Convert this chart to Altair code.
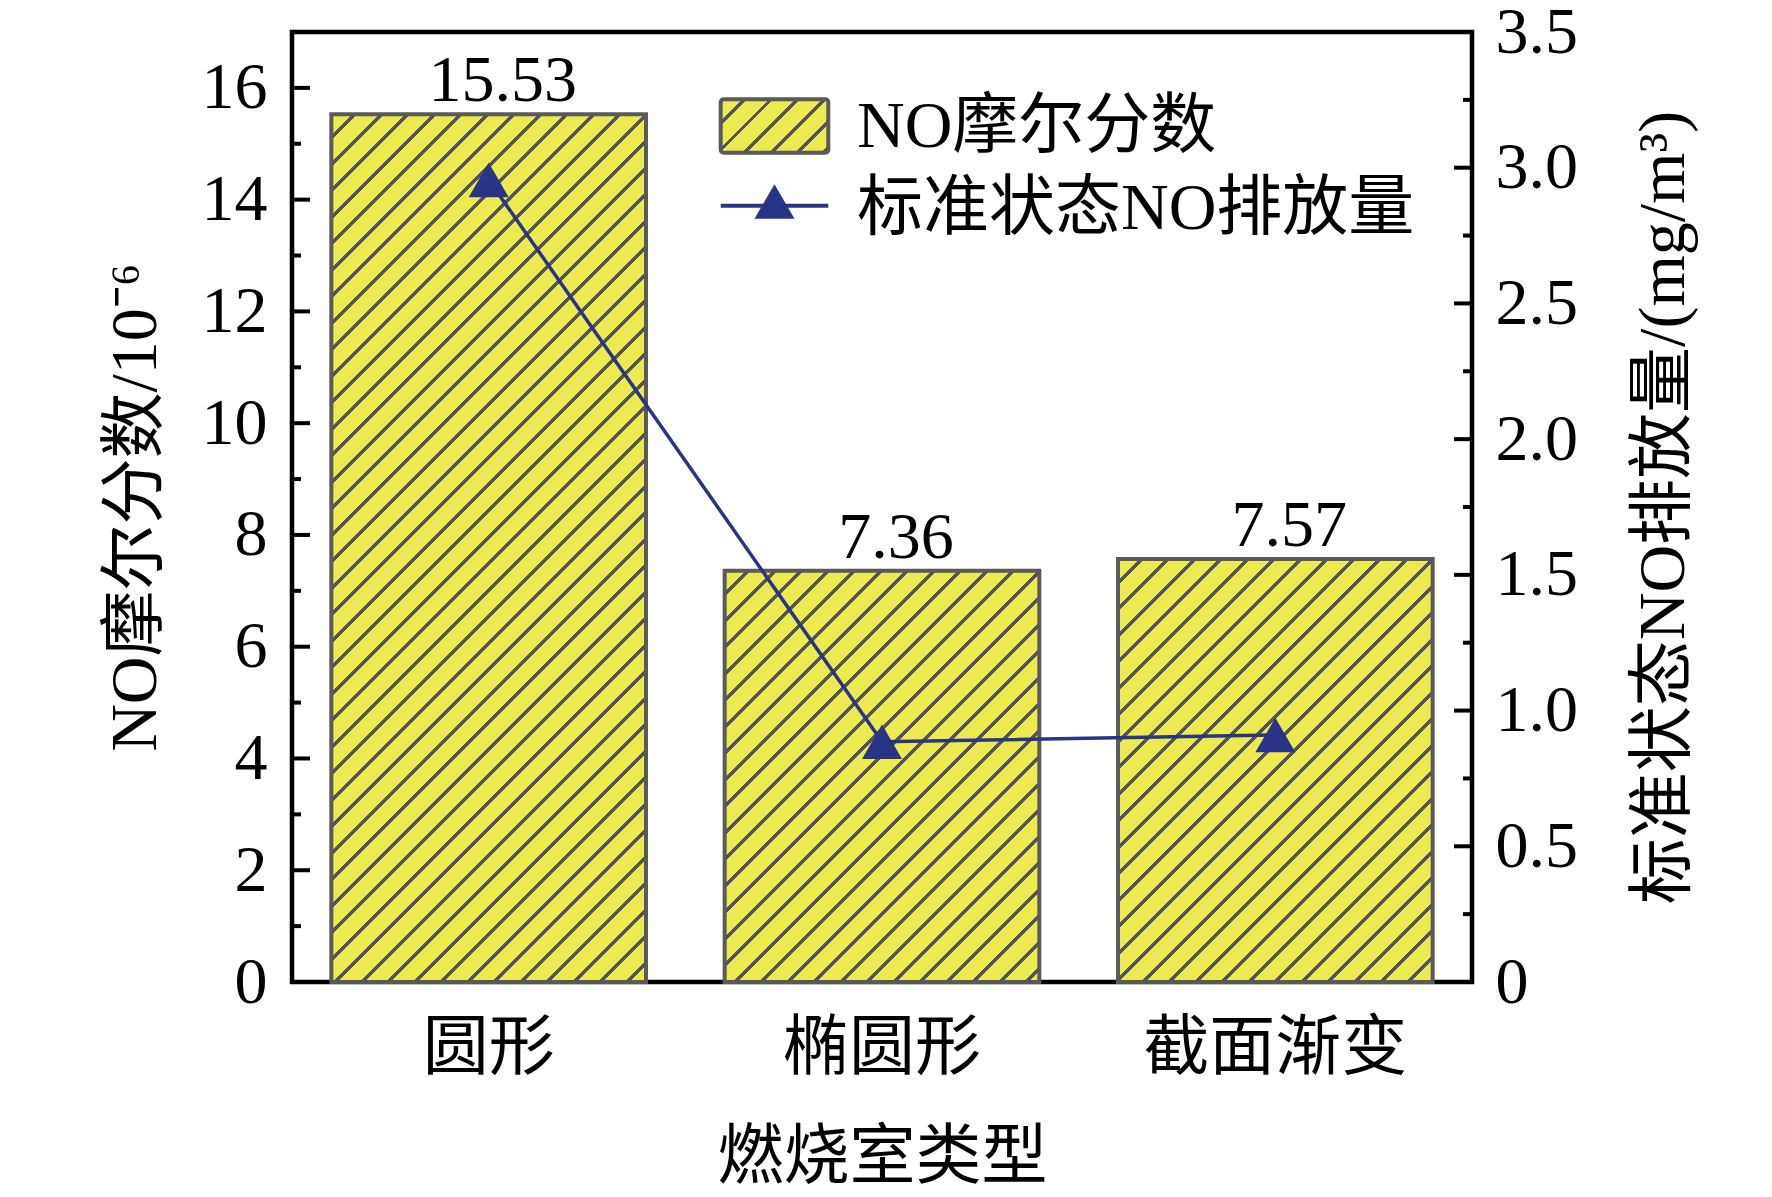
import altair as alt
import pandas as pd

# ---------------- data ----------------
categories = ["圆形", "椭圆形", "截面渐变"]
no_fraction = [15.53, 7.36, 7.57]
emission = [2.955, 0.885, 0.91]
left_major = [0, 2, 4, 6, 8, 10, 12, 14, 16]
left_minor = [1, 3, 5, 7, 9, 11, 13, 15]
right_major = [0, 0.5, 1.0, 1.5, 2.0, 2.5, 3.0, 3.5]
right_minor = [0.25, 0.75, 1.25, 1.75, 2.25, 2.75, 3.25]
legend_labels = ["NO摩尔分数", "标准状态NO排放量"]
x_title = "燃烧室类型"
left_title = "NO摩尔分数/10⁻⁶"
right_title = "标准状态NO排放量/(mg/m³)"

# ---------------- style ----------------
W, H = 1180, 950
LEFT_MAX, RIGHT_MAX = 17, 3.5
FONT = "Liberation Serif, Times New Roman, Noto Sans CJK SC"
FS = 66
YELLOW = "#EBEA50"
HATCH = "#555555"
EDGE = "#5A5A5A"
NAVY = "#2A3487"
PERIOD = 26.5
LW = 5.0
PAD_INNER, PAD_OUTER = 0.2, 0.1

step = W / (len(categories) - PAD_INNER + 2 * PAD_OUTER)
bw = step * (1 - PAD_INNER)


def hatch(w, h):
    L = w + h
    k = L / (w * w + h * h)
    stops = []
    i = 0
    while i * PERIOD < L:
        a = round(i * PERIOD / L, 5)
        b = round(min((i * PERIOD + PERIOD - LW) / L, 1), 5)
        c = round(min((i + 1) * PERIOD / L, 1), 5)
        stops += [
            alt.GradientStop(color=YELLOW, offset=a),
            alt.GradientStop(color=YELLOW, offset=b),
            alt.GradientStop(color=HATCH, offset=b),
            alt.GradientStop(color=HATCH, offset=c),
        ]
        i += 1
    return alt.LinearGradient(gradient="linear", stops=stops,
                              x1=0, y1=0, x2=k * w, y2=k * h)


df = pd.DataFrame({"cat": categories, "frac": no_fraction, "emis": emission})

x_axis = alt.Axis(title=x_title, domain=False, ticks=False, tickSize=0, grid=False,
                  labelAngle=0, labelPadding=86, labelBaseline="alphabetic", labelLimit=0,
                  titleY=195, titleBaseline="alphabetic")
xenc = alt.X("cat:N", sort=categories,
             scale=alt.Scale(domain=categories, paddingInner=PAD_INNER, paddingOuter=PAD_OUTER),
             axis=x_axis)

left_scale = alt.Scale(domain=[0, LEFT_MAX], nice=False, zero=True)
right_scale = alt.Scale(domain=[0, RIGHT_MAX], nice=False, zero=True)

left_axis = alt.Axis(title=left_title, values=left_major, domain=False, ticks=False, tickSize=0,
                     grid=False, labelPadding=25, titleAngle=270, titleX=-137, titleY=H / 2,
                     titleBaseline="alphabetic", titleAlign="center", titleLimit=0)
right_axis = alt.Axis(orient="right", title=right_title, values=right_major, domain=False,
                      ticks=False, tickSize=0, grid=False, labelPadding=23,
                      labelExpr="datum.value == 0 ? '0' : format(datum.value, '.1f')",
                      titleAngle=270, titleX=211, titleY=H / 2, titleLimit=0,
                      titleBaseline="alphabetic", titleAlign="center")

# bars (one layer each so the hatch gradient fits each bar's box)
bars = [
    alt.Chart(df).transform_filter(alt.datum.cat == c).mark_bar(
        fill=hatch(bw, v / LEFT_MAX * H), stroke=EDGE, strokeWidth=4
    ).encode(x=xenc, y=alt.Y("frac:Q", scale=left_scale, axis=left_axis))
    for c, v in zip(categories, no_fraction)
]

labels = alt.Chart(df).mark_text(
    dx=14, dy=-13, baseline="alphabetic", font=FONT, fontSize=FS, color="black"
).encode(x=xenc, y=alt.Y("frac:Q", scale=left_scale, axis=left_axis),
         text=alt.Text("frac:Q", format=".2f"))

lmaj = alt.Chart(pd.DataFrame({"v": left_major})).mark_rule(color="black", strokeWidth=4).encode(
    y=alt.Y("v:Q", scale=left_scale, axis=left_axis), x=alt.value(0), x2=alt.value(18))
lmin = alt.Chart(pd.DataFrame({"v": left_minor})).mark_rule(color="black", strokeWidth=4).encode(
    y=alt.Y("v:Q", scale=left_scale, axis=left_axis), x=alt.value(0), x2=alt.value(9))

# legend
leg_rect = alt.Chart(pd.DataFrame({"label": [legend_labels[0]]})).mark_rect(
    fill=hatch(107.6, 53.4), stroke=EDGE, strokeWidth=4, cornerRadius=3
).encode(x=alt.value(428.7), x2=alt.value(536.3), y=alt.value(67.3), y2=alt.value(120.7))
leg_line = alt.Chart(pd.DataFrame({"label": [legend_labels[1]]})).mark_rule(
    color=NAVY, strokeWidth=4
).encode(x=alt.value(428.7), x2=alt.value(536.3), y=alt.value(173.7))
leg_pt = alt.Chart(pd.DataFrame({"label": [legend_labels[1]]})).mark_point(
    shape="triangle-up", filled=True, size=1600, color=NAVY, opacity=1, strokeWidth=0
).encode(x=alt.value(482.5), y=alt.value(169.5))
leg_t1 = alt.Chart(pd.DataFrame({"label": [legend_labels[0]]})).mark_text(
    align="left", baseline="alphabetic", font=FONT, fontSize=FS, color="black"
).encode(x=alt.value(565), y=alt.value(115), text="label:N")
leg_t2 = alt.Chart(pd.DataFrame({"label": [legend_labels[1]]})).mark_text(
    align="left", baseline="alphabetic", font=FONT, fontSize=FS, color="black"
).encode(x=alt.value(565), y=alt.value(197), text="label:N")

left_layer = alt.layer(*bars, labels, lmaj, lmin, leg_rect, leg_line, leg_pt, leg_t1, leg_t2)

line = alt.Chart(df).mark_line(color=NAVY, strokeWidth=3.5).encode(
    x=xenc, y=alt.Y("emis:Q", scale=right_scale, axis=right_axis))
pts = alt.Chart(df).mark_point(
    shape="triangle-up", filled=True, size=1600, color=NAVY, opacity=1, strokeWidth=0
).encode(x=xenc, y=alt.Y("emis:Q", scale=right_scale, axis=right_axis))
rmaj = alt.Chart(pd.DataFrame({"v": right_major})).mark_rule(color="black", strokeWidth=4).encode(
    y=alt.Y("v:Q", scale=right_scale, axis=right_axis), x=alt.value(W - 18), x2=alt.value(W))
rmin = alt.Chart(pd.DataFrame({"v": right_minor})).mark_rule(color="black", strokeWidth=4).encode(
    y=alt.Y("v:Q", scale=right_scale, axis=right_axis), x=alt.value(W - 9), x2=alt.value(W))

right_layer = alt.layer(line, pts, rmaj, rmin)

chart = alt.layer(left_layer, right_layer).resolve_scale(y="independent").properties(
    width=W, height=H,
    autosize=alt.AutoSizeParams(type="none"),
    padding={"left": 284, "top": 24, "right": 270, "bottom": 206},
    background="white",
).configure_view(stroke="black", strokeWidth=4.5).configure_axis(
    labelFont=FONT, titleFont=FONT, labelFontSize=FS, titleFontSize=FS,
    labelColor="black", titleColor="black", titleFontWeight="normal",
)

chart.save("out.html", embed_options={"renderer": "svg", "actions": False})
